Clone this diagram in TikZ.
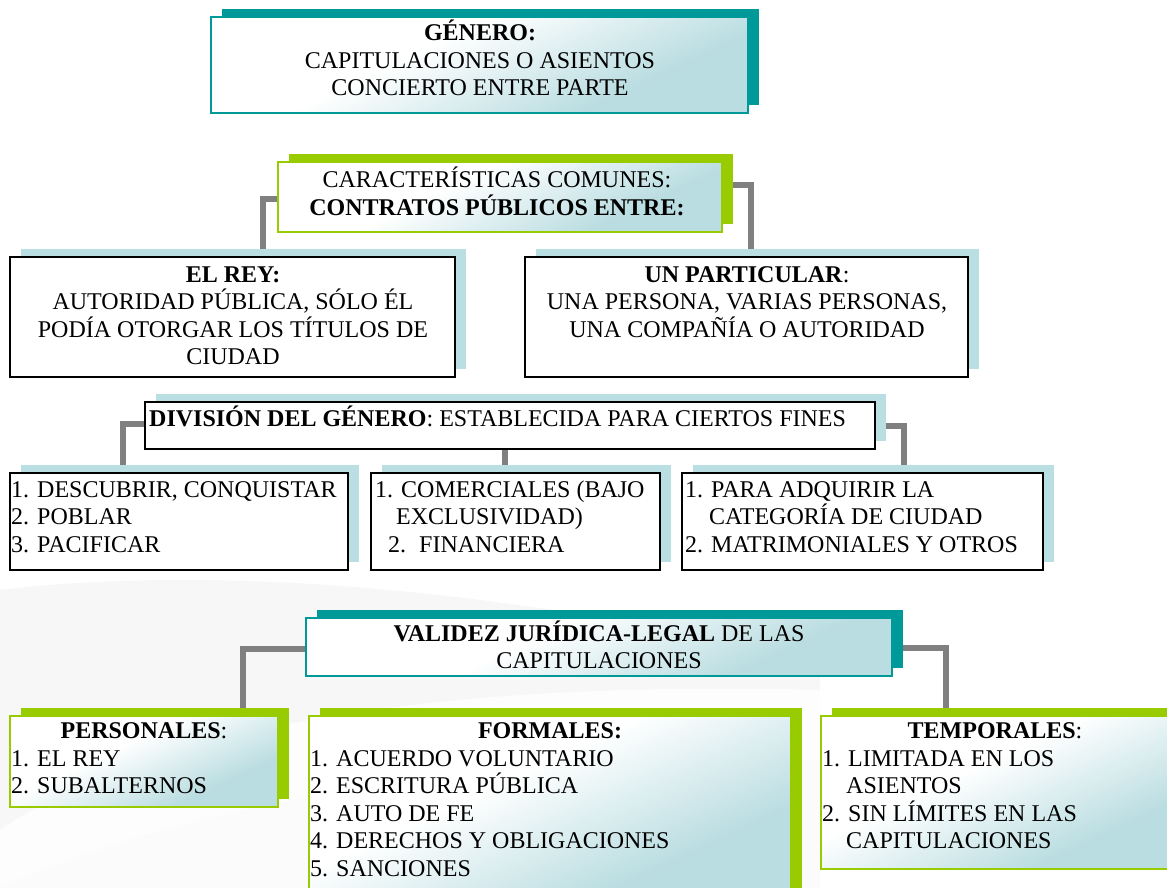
\documentclass[tikz,border=0pt]{standalone}
\usepackage{fontspec}
\setmainfont{Liberation Serif}
\usetikzlibrary{fit}
\pgfdeclarelayer{back}
\pgfdeclarelayer{bg}
\pgfsetlayers{back,bg,main}
\definecolor{tealc}{RGB}{0,153,153}
\definecolor{greenc}{RGB}{153,204,0}
\definecolor{lblue}{RGB}{185,223,226}
\definecolor{gradb}{RGB}{186,221,225}
\definecolor{connc}{RGB}{128,128,128}
\pgfdeclareverticalshading{boxshade}{100bp}{color(0bp)=(gradb); color(32bp)=(gradb); color(58bp)=(white); color(100bp)=(white)}
\tikzset{
  txt/.style={font=\fontsize{24}{27.5}\selectfont, inner sep=0pt, align=center, anchor=base},
  ltxt/.style={font=\fontsize{24}{27.5}\selectfont, inner sep=0pt, align=left, anchor=base west},
  plainbox/.style={draw=black, line width=1.6pt, fill=white},
  tealbox/.style={draw=tealc, line width=1.4pt, shade, shading=boxshade, shading angle=25},
  greenbox/.style={draw=greenc, line width=1.4pt, shade, shading=boxshade, shading angle=25},
  conn/.style={draw=connc, line width=6pt},
}
\newcommand\shbox[7]{%
  \fill[#2] (#4+11,#5-8) rectangle (#6+11,#7-8);
  \node[fit={(#4,#5) (#6,#7)}, inner sep=0pt, #3] (#1) {};
}
\begin{document}
\begin{tikzpicture}[x=1pt,y=-1pt]
\useasboundingbox (0,0) rectangle (1167,888);
\begin{pgfonlayer}{back}
  \fill[black!3] (0,590) .. controls (250,560) and (550,600) .. (820,660) -- (820,888) -- (0,888) -- cycle;
  \fill[white, opacity=0.85] (0,830) .. controls (150,730) and (420,680) .. (820,690) -- (820,888) -- (0,888) -- cycle;
  \fill[black!2, opacity=0.6] (0,888) .. controls (200,800) and (450,760) .. (820,760) -- (820,888) -- cycle;
\end{pgfonlayer}

% boxes
\shbox{gen}{tealc}{tealbox}{211}{17}{748}{113}
\shbox{car}{greenc}{greenbox}{278}{162}{722}{232}
\shbox{rey}{lblue}{plainbox}{10}{257}{455}{377}
\shbox{par}{lblue}{plainbox}{525}{257}{968}{377}
\shbox{div}{lblue}{plainbox}{145}{402}{875}{449}
\shbox{da}{lblue}{plainbox}{10}{473}{348}{570}
\shbox{db}{lblue}{plainbox}{371}{473}{660}{570}
\shbox{dc}{lblue}{plainbox}{682}{473}{1043}{570}
\shbox{val}{tealc}{tealbox}{306}{618}{892}{676}
\shbox{per}{greenc}{greenbox}{10}{716}{278}{807}
\shbox{form}{greenc}{greenbox}{309}{716}{791}{900}
\shbox{temp}{greenc}{greenbox}{821}{716}{1190}{869}

% connectors
\begin{pgfonlayer}{bg}
  \draw[conn] ([yshift=-2pt]car.west) -| ([xshift=30.5pt]rey.north);
  \draw[conn] ([yshift=12pt]car.east) -| ([xshift=4.5pt]par.north);
  \draw[conn] ([yshift=1.5pt]div.west) -| ([xshift=-56pt]da.north);
  \draw[conn] ([xshift=-5pt]div.south) -- ([xshift=-5pt]div.south |- db.north);
  \draw[conn] (div.east) -| ([xshift=41.5pt]dc.north);
  \draw[conn] ([yshift=-2pt]val.west) -| ([xshift=99pt]per.north);
  \draw[conn] ([yshift=-1pt]val.east) -| ([xshift=-60pt]temp.north);
\end{pgfonlayer}

% texts (anchor base = baseline of the last line)
\node[txt] (genT) at (480,96) {\textbf{GÉNERO:}\\CAPITULACIONES O ASIENTOS\\CONCIERTO ENTRE PARTE};
\node[txt] (carT) at (497,215) {CARACTERÍSTICAS COMUNES:\\\textbf{CONTRATOS PÚBLICOS ENTRE:}};
\node[txt] (reyT) at (233,364.5) {\textbf{EL REY:}\\AUTORIDAD PÚBLICA, SÓLO ÉL\\PODÍA OTORGAR LOS TÍTULOS DE\\CIUDAD};
\node[txt] (parT) at (747,337) {\textbf{UN PARTICULAR}:\\UNA PERSONA, VARIAS PERSONAS,\\UNA COMPAÑÍA O AUTORIDAD};
\node[ltxt] (divT) at (149,426) {\textbf{DIVISIÓN DEL GÉNERO}: ESTABLECIDA PARA CIERTOS FINES};
\node[ltxt] (daT) at (11,552) {1. DESCUBRIR, CONQUISTAR\\2. POBLAR\\3. PACIFICAR};
\node[ltxt] (dbT) at (375,552) {1. COMERCIALES (BAJO\\\hspace*{21pt}EXCLUSIVIDAD)\\\hspace*{13pt}2.\hspace{13pt}FINANCIERA};
\node[ltxt] (dcT) at (685,552) {1. PARA ADQUIRIR LA\\\hspace*{24pt}CATEGORÍA DE CIUDAD\\2. MATRIMONIALES Y OTROS};
\node[txt] (valT) at (599,668.5) {\textbf{VALIDEZ JURÍDICA-LEGAL} DE LAS\\CAPITULACIONES};
\node[txt] (perH) at (144,738) {\textbf{PERSONALES}:};
\node[ltxt] (perT) at (11,793.5) {1. EL REY\\2. SUBALTERNOS};
\node[txt] (formH) at (550,738) {\textbf{FORMALES:}};
\node[ltxt] (formT) at (310,876) {1. ACUERDO VOLUNTARIO\\2. ESCRITURA PÚBLICA\\3. AUTO DE FE\\4. DERECHOS Y OBLIGACIONES\\5. SANCIONES};
\node[txt] (tempH) at (995,738) {\textbf{TEMPORALES}:};
\node[ltxt] (tempT) at (822,848.5) {1. LIMITADA EN LOS\\\hspace*{24pt}ASIENTOS\\2. SIN LÍMITES EN LAS\\\hspace*{24pt}CAPITULACIONES};
\end{tikzpicture}
\end{document}
